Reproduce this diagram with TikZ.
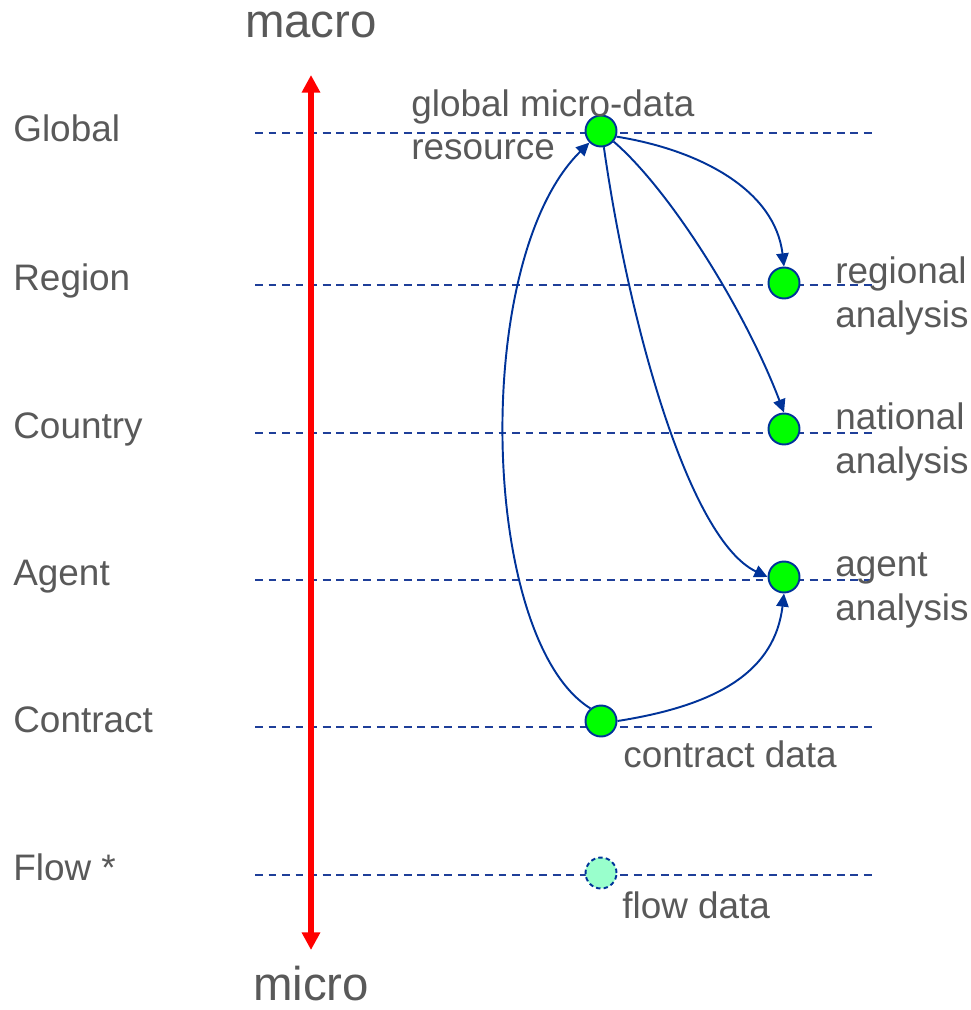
\documentclass[tikz,border=0pt]{standalone}
\usepackage{fontspec}
\setmainfont{Liberation Sans}
\usetikzlibrary{arrows.meta}
\definecolor{txt}{HTML}{595959}
\definecolor{edge}{HTML}{003399}
\definecolor{lvl}{HTML}{1F3F99}
\definecolor{nodegreen}{HTML}{00FF00}
\definecolor{flowfill}{HTML}{99FFCC}
\begin{document}
\begin{tikzpicture}[x=0.02cm,y=-0.02cm,
  lbl/.style={text=txt,font=\fontsize{21}{25}\selectfont,inner sep=0pt,anchor=base west,align=left},
  big/.style={text=txt,font=\fontsize{27}{32}\selectfont,inner sep=0pt,anchor=base},
  level/.style={draw=lvl,line width=1.3pt,dash pattern=on 4.5pt off 3.2pt},
  dot/.style={circle,draw=edge,line width=1.1pt,fill=nodegreen,minimum size=0.62cm,inner sep=0pt},
  flowdot/.style={dot,fill=flowfill,dash pattern=on 2.5pt off 1.8pt},
  link/.style={draw=edge,line width=1.1pt,-{Triangle[length=7.5pt,width=7pt]}}]
\useasboundingbox (0,0) rectangle (970,1010);
% level lines
\foreach \y in {133,285,433,580,727,875}{
  \coordinate (L\y) at (255,\y); \coordinate (R\y) at (872,\y);
  \draw[level] (L\y) -- (R\y);
}
% row labels
\node[lbl] (tglobal) at (13,142) {Global};
\node[lbl] (tregion) at (13,290) {Region};
\node[lbl] (tcountry) at (13,438) {Country};
\node[lbl] (tagent) at (13,585) {Agent};
\node[lbl] (tcontract) at (13,732) {Contract};
\node[lbl] (tflow) at (13,880) {Flow *};
% macro/micro axis
\node[big] (macro) at (311,38) {macro};
\node[big] (micro) at (311,1000) {micro};
\coordinate (atop) at (311,75);
\coordinate (abot) at (311,950);
\draw[red,line width=3pt,{Triangle[length=10pt,width=10pt]}-{Triangle[length=10pt,width=10pt]}] (atop) -- (abot);
% nodes
\node[dot] (g) at (601,131) {};
\node[dot] (r) at (784,283) {};
\node[dot] (n) at (784,429) {};
\node[dot] (a) at (784,577) {};
\node[dot] (c) at (601,721) {};
\node[flowdot] (f) at (601,873) {};
% labels of nodes (base anchor = last line)
\node[lbl] (tg) at (411,160) {global micro-data\\resource};
\node[lbl] (tr) at (835,327) {regional\\analysis};
\node[lbl] (tn) at (835,473) {national\\analysis};
\node[lbl] (ta) at (835,620) {agent\\analysis};
\node[lbl] (tc) at (623,767) {contract data};
\node[lbl] (tf) at (622,918) {flow data};
% connectors
\draw[link] (c.130) .. controls (480,640) and (470,260) .. (g.225);
\draw[link] (g.-20) .. controls (700,150) and (775,190) .. (r.north);
\draw[link] (g.-40) .. controls (670,190) and (745,310) .. (n.north);
\draw[link] (g.-80) .. controls (630,330) and (690,540) .. (a.west);
\draw[link] (c.east) .. controls (720,705) and (775,670) .. (a.south);
\end{tikzpicture}
\end{document}
